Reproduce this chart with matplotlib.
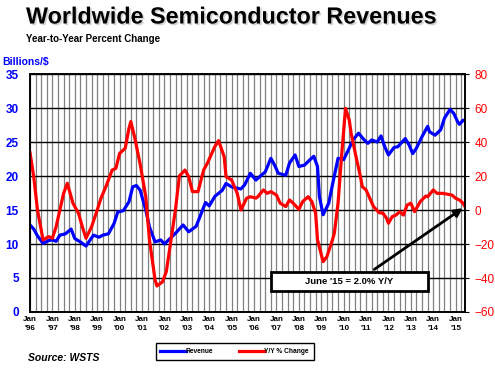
import matplotlib.pyplot as plt
import matplotlib.patheffects as pe
from matplotlib.patches import Rectangle

plt.rcParams['font.family'] = ['Liberation Sans', 'DejaVu Sans']

# months counted from Jan 1996
rev_month = [0, 2, 4, 7, 10, 12, 14, 16, 19, 22, 24, 27, 30, 34, 37, 39, 42, 45, 47, 50,
             53, 55, 57, 59, 62, 64, 67, 70, 72, 75, 78, 82, 85, 89, 94, 96, 99, 103, 105, 108,
             111, 113, 115, 118, 121, 123, 126, 129, 131, 133, 137, 139, 142, 144, 147, 150, 152, 154, 155, 157,
             160, 162, 165, 168, 171, 173, 176, 179, 181, 183, 186, 188, 190, 192, 195, 197, 201, 203, 205, 207,
             210, 213, 214, 217, 220, 222, 225, 227, 229, 230, 232, 233]
rev_value = [12.8, 12.2, 11.2, 10.1, 10.5, 10.6, 10.4, 11.3, 11.5, 12.2, 10.8, 10.3, 9.7, 11.3, 11.0, 11.3, 11.5, 13.0, 14.7, 14.9,
             16.2, 18.4, 18.6, 17.9, 15.0, 12.5, 10.3, 10.6, 10.0, 10.8, 11.6, 12.8, 11.8, 12.6, 16.1, 15.6, 17.0, 17.9, 18.9, 18.4,
             18.2, 18.1, 18.7, 20.4, 19.4, 19.9, 20.6, 22.6, 21.6, 20.4, 20.1, 21.9, 23.1, 21.4, 21.6, 22.4, 22.9, 21.4, 17.0, 14.3,
             16.0, 18.7, 22.6, 22.4, 24.1, 25.3, 26.3, 25.3, 24.8, 25.3, 25.0, 25.9, 24.3, 23.1, 24.2, 24.3, 25.5, 24.6, 23.3, 24.1,
             25.8, 27.3, 26.5, 26.0, 26.8, 28.5, 29.8, 29.2, 28.0, 27.6, 28.2, 28.1]

yoy_month = [0, 2, 4, 7, 10, 12, 14, 16, 18, 20, 23, 26, 28, 30, 33, 36, 38, 41, 44, 46,
             48, 51, 53, 54, 56, 59, 62, 64, 67, 68, 71, 73, 75, 78, 80, 83, 85, 87, 90, 93,
             95, 97, 99, 101, 104, 105, 108, 111, 113, 116, 118, 121, 122, 125, 127, 129, 132, 134, 137, 139,
             141, 144, 146, 149, 151, 153, 154, 157, 159, 162, 163, 165, 167, 169, 171, 172, 175, 177, 178, 180,
             182, 184, 187, 189, 191, 192, 194, 196, 198, 200, 202, 204, 206, 209, 212, 213, 216, 218, 221, 223,
             226, 228, 230, 232, 233]
yoy_value = [33.7, 19.6, 0, -17.6, -15.7, -16.6, -9.8, 0, 9.8, 15.7, 4, -2, -9.8, -16.6, -9.8, 0, 6.9, 14.7, 23.5, 24.5,
             33.3, 36.3, 48, 52, 43, 27, 7.8, -17.6, -41.2, -44.7, -42.2, -36.3, -21.6, 1.0, 20, 23.5, 19.6, 10.8, 10.8, 23.5,
             27.5, 32.4, 37.3, 40.8, 31.4, 19.6, 17.6, 9.8, 0, 6.9, 7.8, 7, 7.8, 11.8, 9.8, 10.8, 8.8, 4, 2, 5.9,
             4, 0.4, 4.9, 7.8, 4.9, -2, -17.6, -30.4, -27.5, -17.6, -13.7, 4, 33.3, 59.8, 52.9, 45.1, 29.4, 19.6, 13.7, 11.8,
             6.9, 2, -1.6, -1.8, -4.9, -7.8, -3.9, -3, -1, -3, 2.9, 4, -1, 4.9, 8.2, 7.8, 11.8, 9.8, 9.8, 9.4,
             8.8, 6.9, 5.9, 4, 2.0]

years = list(range(1996, 2016))
year_labels = ["Jan\n'%02d" % (y % 100) for y in years]

fig = plt.figure(figsize=(4.95, 3.69), dpi=100)
ax = fig.add_axes([30 / 495, 1 - 312 / 369, 435 / 495, 238 / 369])
ax2 = ax.twinx()

l1, = ax.plot(rev_month, rev_value, color='#0000ff', lw=2.3, label='Revenue')
l2, = ax2.plot(yoy_month, yoy_value, color='#ff0000', lw=2.3, label='Y/Y % Change')

ax.set_xlim(0, 233)
ax.set_ylim(0, 35)
ax.set_yticks(range(0, 36, 5))
ax2.set_ylim(-60, 80)
ax2.set_yticks(range(-60, 81, 20))

ax.set_xticks(range(0, 229, 12))
ax.set_xticklabels(year_labels, fontsize=5.8, fontweight='bold', linespacing=1.35)
ax.set_xticks(range(0, 234, 3), minor=True)
ax.grid(True, which='both', axis='x', color='#808080', lw=0.9)
ax.grid(True, which='major', axis='y', color='black', lw=1.0)
ax.tick_params(axis='x', which='both', length=0, pad=3)
ax.tick_params(axis='y', length=0, pad=8, labelcolor='#0000ff', labelsize=8.5)
for t in ax.get_yticklabels():
    t.set_fontweight('bold')
ax2.tick_params(axis='y', length=3, pad=4, labelcolor='#ff0000', labelsize=8.5)

for a in (ax, ax2):
    for s in a.spines.values():
        s.set_color('black')
        s.set_linewidth(1.2)

fig.text(26 / 495, 1 - 17 / 369, 'Worldwide Semiconductor Revenues', fontsize=16.8, fontweight='bold',
         va='center', ha='left',
         path_effects=[pe.SimplePatchShadow(offset=(1.2, -1.2), shadow_rgbFace='#a0a0a0', alpha=0.45), pe.Normal()])
fig.text(26 / 495, 1 - 39 / 369, 'Year-to-Year Percent Change', fontsize=7, fontweight='bold', va='center')
fig.text(2 / 495, 1 - 62 / 369, 'Billions/$', fontsize=7.5, fontweight='bold', color='#0000ff', va='center')
fig.text(28 / 495, 1 - 358 / 369, 'Source: WSTS', fontsize=7.5, fontweight='bold', style='italic', va='center')

# legend
leg = fig.legend(handles=[l1, l2], loc='center', bbox_to_anchor=(234.5 / 495, 1 - 351.5 / 369), ncol=2,
                 prop={'weight': 'bold', 'size': 4.8}, fancybox=False, edgecolor='black',
                 framealpha=1, handlelength=3.8, handletextpad=0.05, columnspacing=3.8, borderpad=0.7,
                 borderaxespad=0)
leg.get_frame().set_linewidth(1.0)

# callout
fig.patches.append(Rectangle((271 / 495, 1 - 291 / 369), 157 / 495, 19 / 369, transform=fig.transFigure,
                             facecolor='white', edgecolor='black', lw=2, zorder=5))
fig.text(349.5 / 495, 1 - 281.5 / 369, "June '15 = 2.0% Y/Y", fontsize=6.8, fontweight='bold',
         ha='center', va='center', zorder=6)
ax2.annotate('', xy=(233, yoy_value[-1]), xytext=(372 / 495, 1 - 271 / 369), textcoords='figure fraction',
             arrowprops=dict(arrowstyle='-|>', lw=2, color='black', mutation_scale=12), annotation_clip=False)

fig.savefig('out.png', dpi=100)
